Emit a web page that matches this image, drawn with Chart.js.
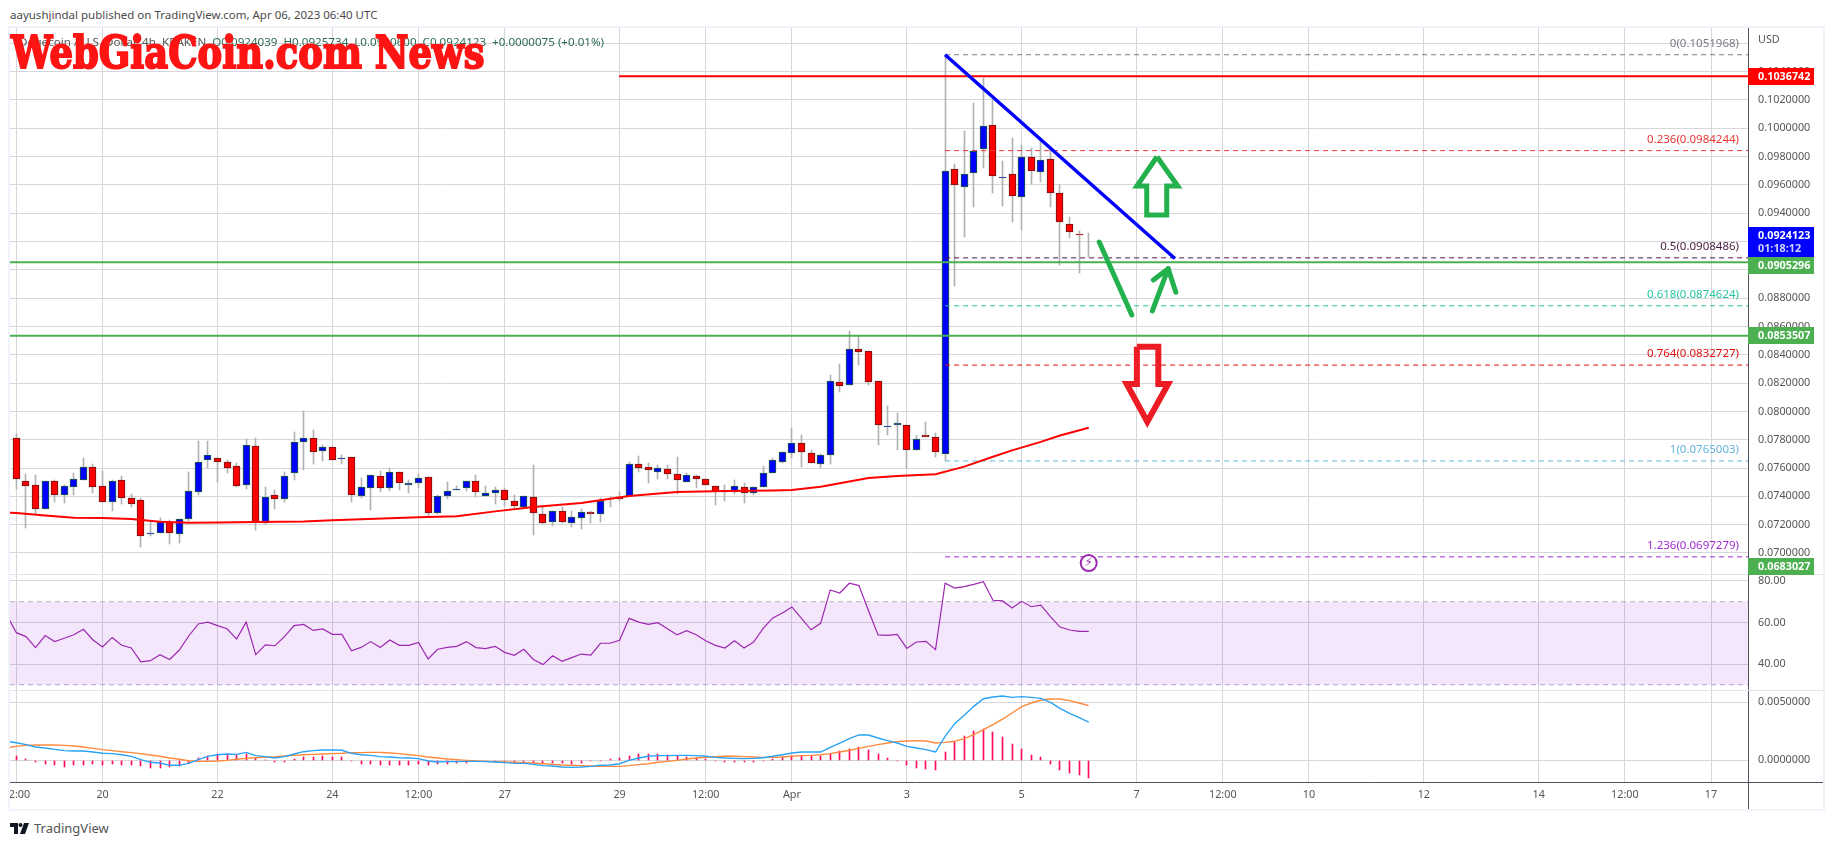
<!DOCTYPE html>
<html>
<head>
<meta charset="utf-8">
<title>Dogecoin / U.S. Dollar, 4h</title>
<script src="https://cdn.jsdelivr.net/npm/chart.js@4/dist/chart.umd.js"></script>
<style>
  html, body { margin: 0; padding: 0; background: #fff; }
  body { width: 1834px; height: 845px; position: relative; overflow: hidden; font-family: "Noto Sans", sans-serif; }
  canvas { position: absolute; left: 10px; }
  #frame { position: absolute; left: 8px; top: 26px; width: 1817px; height: 785px; box-sizing: border-box; border: 2px solid #f0f3fa; }
  #published { position: absolute; left: 10px; top: 6px; font-size: 11.5px; line-height: 18px; color: #4a4a4a; white-space: nowrap; }
  #legend { position: absolute; left: 19px; top: 33px; font-size: 11.6px; line-height: 18px; color: #555; white-space: pre; }
  #legend span { color: #2f6b52; }
  #watermark { position: absolute; left: 11px; top: 25px; font-family: "DejaVu Serif", serif; font-weight: 900; font-size: 45px; line-height: 55px; color: #ff1414; white-space: pre; transform-origin: 0 0; transform: scaleX(0.82); -webkit-text-stroke: 2px #ff1414; }
  #footer { position: absolute; left: 10px; top: 819px; height: 18px; display: flex; align-items: center; font-size: 13px; color: #555; }
  #footer svg { margin-right: 5px; }
</style>
</head>
<body>
<div id="published">aayushjindal published on TradingView.com, Apr 06, 2023 06:40 UTC</div>
<div id="frame"></div>
<canvas id="priceChart" width="1813" height="547" style="top:28px"></canvas>
<canvas id="rsiChart" width="1813" height="116" style="top:575px"></canvas>
<canvas id="macdChart" width="1813" height="118" style="top:691px"></canvas>
<div id="legend">Dogecoin / U.S. Dollar, 4h, KRAKEN  <span>O0.0924039  H0.0925734  L0.0900600  C0.0924123  +0.0000075 (+0.01%)</span></div>
<div id="watermark">WebGiaCoin.com News</div>
<div id="footer">
  <svg width="19" height="11" viewBox="0 0 19 11"><path d="M0 0h8v11H4V4H0z M14 0h5l-4 11h-5z" fill="#131722"/><circle cx="10.5" cy="2" r="2" fill="#131722"/></svg>
  TradingView
</div>
<script>
// candles, one entry per 4h bar
const opens = [
  0.07810, 0.07506, 0.07478, 0.07308, 0.07506, 0.07412, 0.07468, 0.07513, 0.07605, 0.07471,
  0.07363, 0.07513, 0.07386, 0.07372, 0.07132, 0.07139, 0.07219, 0.07132, 0.07238, 0.07428,
  0.07655, 0.07669, 0.07640, 0.07612, 0.07478, 0.07753, 0.07209, 0.07407, 0.07379, 0.07563,
  0.07782, 0.07810, 0.07723, 0.07746, 0.07662, 0.07676, 0.07405, 0.07457, 0.07541, 0.07457,
  0.07570, 0.07478, 0.07492, 0.07534, 0.07285, 0.07405, 0.07443, 0.07457, 0.07506, 0.07405,
  0.07421, 0.07443, 0.07365, 0.07327, 0.07393, 0.07273, 0.07221, 0.07294, 0.07214, 0.07245,
  0.07287, 0.07273, 0.07379, 0.07398, 0.07400, 0.07626, 0.07605, 0.07570, 0.07591, 0.07556,
  0.07499, 0.07541, 0.07520, 0.07471, 0.07436, 0.07428, 0.07464, 0.07421, 0.07464, 0.07563,
  0.07640, 0.07704, 0.07775, 0.07704, 0.07626, 0.07690, 0.08206, 0.08184, 0.08439, 0.08425,
  0.08213, 0.07892, 0.07902, 0.07902, 0.07725, 0.07831, 0.07817, 0.07702, 0.09710, 0.09583,
  0.09682, 0.09852, 0.10021, 0.09651, 0.09675, 0.09512, 0.09795, 0.09689, 0.09781, 0.09541,
  0.09322, 0.09251, 0.09240
]
const highs = [
  0.07838, 0.07558, 0.07551, 0.07506, 0.07516, 0.07480, 0.07565, 0.07671, 0.07629, 0.07579,
  0.07516, 0.07544, 0.07417, 0.07386, 0.07221, 0.07247, 0.07233, 0.07238, 0.07572, 0.07789,
  0.07791, 0.07669, 0.07655, 0.07633, 0.07803, 0.07812, 0.07464, 0.07445, 0.07572, 0.07855,
  0.08003, 0.07869, 0.07763, 0.07746, 0.07692, 0.07676, 0.07530, 0.07548, 0.07579, 0.07598,
  0.07570, 0.07516, 0.07556, 0.07534, 0.07412, 0.07501, 0.07473, 0.07506, 0.07551, 0.07473,
  0.07466, 0.07459, 0.07410, 0.07400, 0.07622, 0.07323, 0.07294, 0.07323, 0.07294, 0.07308,
  0.07294, 0.07386, 0.07398, 0.07428, 0.07643, 0.07685, 0.07636, 0.07622, 0.07622, 0.07678,
  0.07563, 0.07548, 0.07520, 0.07471, 0.07480, 0.07516, 0.07492, 0.07464, 0.07614, 0.07669,
  0.07711, 0.07881, 0.07831, 0.07725, 0.07697, 0.08255, 0.08335, 0.08568, 0.08533, 0.08425,
  0.08213, 0.08038, 0.07987, 0.07902, 0.07831, 0.07925, 0.07845, 0.10520, 0.09748, 0.09981,
  0.10179, 0.10353, 0.10200, 0.09769, 0.09932, 0.09880, 0.09861, 0.09917, 0.09847, 0.09597,
  0.09374, 0.09275, 0.09257
]
const lows = [
  0.07454, 0.07179, 0.07275, 0.07308, 0.07363, 0.07355, 0.07410, 0.07513, 0.07426, 0.07363,
  0.07299, 0.07348, 0.07327, 0.07045, 0.07122, 0.07139, 0.07066, 0.07073, 0.07228, 0.07412,
  0.07600, 0.07504, 0.07567, 0.07468, 0.07454, 0.07165, 0.07205, 0.07313, 0.07363, 0.07518,
  0.07589, 0.07631, 0.07652, 0.07659, 0.07631, 0.07363, 0.07391, 0.07306, 0.07433, 0.07440,
  0.07447, 0.07426, 0.07457, 0.07257, 0.07278, 0.07384, 0.07443, 0.07440, 0.07398, 0.07405,
  0.07348, 0.07332, 0.07315, 0.07315, 0.07129, 0.07202, 0.07193, 0.07214, 0.07186, 0.07172,
  0.07214, 0.07221, 0.07327, 0.07370, 0.07400, 0.07574, 0.07497, 0.07525, 0.07525, 0.07414,
  0.07499, 0.07461, 0.07478, 0.07341, 0.07367, 0.07414, 0.07355, 0.07407, 0.07464, 0.07563,
  0.07633, 0.07669, 0.07610, 0.07633, 0.07598, 0.07631, 0.08140, 0.08184, 0.08330, 0.08187,
  0.07765, 0.07836, 0.07730, 0.07603, 0.07725, 0.07822, 0.07676, 0.07650, 0.08886, 0.09230,
  0.09447, 0.09722, 0.09545, 0.09454, 0.09341, 0.09282, 0.09607, 0.09621, 0.09447, 0.09037,
  0.09228, 0.08980, 0.09089
]
const closes = [
  0.07525, 0.07476, 0.07313, 0.07506, 0.07412, 0.07471, 0.07520, 0.07605, 0.07468, 0.07363,
  0.07506, 0.07391, 0.07348, 0.07118, 0.07139, 0.07219, 0.07139, 0.07238, 0.07436, 0.07640,
  0.07690, 0.07640, 0.07603, 0.07476, 0.07761, 0.07219, 0.07393, 0.07384, 0.07541, 0.07782,
  0.07810, 0.07716, 0.07746, 0.07659, 0.07669, 0.07412, 0.07464, 0.07548, 0.07461, 0.07570,
  0.07492, 0.07492, 0.07527, 0.07285, 0.07400, 0.07436, 0.07450, 0.07506, 0.07428, 0.07421,
  0.07443, 0.07372, 0.07334, 0.07400, 0.07280, 0.07209, 0.07294, 0.07221, 0.07252, 0.07287,
  0.07273, 0.07370, 0.07384, 0.07379, 0.07626, 0.07598, 0.07584, 0.07598, 0.07556, 0.07513,
  0.07548, 0.07520, 0.07478, 0.07440, 0.07428, 0.07471, 0.07421, 0.07464, 0.07563, 0.07655,
  0.07711, 0.07775, 0.07711, 0.07633, 0.07690, 0.08213, 0.08182, 0.08439, 0.08417, 0.08206,
  0.07902, 0.07897, 0.07916, 0.07725, 0.07808, 0.07822, 0.07711, 0.09696, 0.09602, 0.09675,
  0.09837, 0.10014, 0.09661, 0.09656, 0.09520, 0.09800, 0.09696, 0.09774, 0.09541, 0.09336,
  0.09270, 0.09244, 0.09241
]

// moving average, read at the bars where the curve bends
const emaBars = [-1, 0, 3, 6, 9, 12, 15, 18, 21, 25, 30, 33, 36, 42, 46, 50, 54, 59, 64, 69, 74, 79, 81, 84, 89, 92, 96, 99, 102, 104, 107, 109, 112]
const emaValues = [
  0.07285, 0.07282, 0.07264, 0.07249, 0.07247, 0.07240, 0.07221, 0.07214, 0.07216, 0.07219, 0.07223,
  0.07231, 0.07238, 0.07252, 0.07259, 0.07294, 0.07325, 0.07353, 0.07403, 0.07431, 0.07438, 0.07442,
  0.07445, 0.07468, 0.07530, 0.07544, 0.07556, 0.07610, 0.07680, 0.07725, 0.07785, 0.07830, 0.07885
]

// oscillators start one bar before the first candle
const rsiValues = [
  63.5, 55.1, 53.2, 47.9, 53.7, 50.8, 52.4, 54.1, 56.7, 51.6, 48.2, 52.8, 49.0, 47.7, 41.0, 41.6, 44.5, 42.2, 46.6, 53.5,
  59.3, 60.2, 58.5, 57.0, 52.0, 60.2, 44.5, 49.2, 48.8, 53.2, 58.5, 59.1, 56.2, 56.9, 54.3, 54.3, 46.4, 48.0, 50.8, 48.0,
  51.6, 49.0, 49.0, 50.4, 42.4, 47.1, 48.0, 48.5, 50.8, 47.9, 47.4, 48.5, 45.6, 44.2, 47.1, 42.2, 39.7, 44.0, 41.3, 43.1,
  44.8, 44.3, 50.0, 50.0, 51.4, 62.0, 60.2, 59.1, 59.9, 57.0, 54.1, 56.1, 54.1, 51.2, 49.0, 47.7, 51.2, 47.7, 50.6, 57.2,
  62.2, 64.6, 67.5, 62.0, 56.5, 59.6, 75.7, 74.2, 78.9, 77.8, 65.7, 54.0, 53.8, 54.3, 47.5, 50.6, 50.9, 46.9, 78.9, 76.6,
  77.3, 78.4, 79.7, 70.7, 70.4, 67.0, 70.2, 67.6, 68.4, 62.8, 57.8, 56.4, 55.7, 55.7
]
const macdValues = [
  0.00162, 0.00150, 0.00133, 0.00113, 0.00104, 0.00092, 0.00081, 0.00078, 0.00078, 0.00069, 0.00058, 0.00055, 0.00046, 0.00032,
  0.00003, -0.00020, -0.00026, -0.00046, -0.00046, -0.00029, 0.00003, 0.00032, 0.00046, 0.00052, 0.00049, 0.00066, 0.00038, 0.00029,
  0.00017, 0.00029, 0.00052, 0.00072, 0.00081, 0.00087, 0.00087, 0.00084, 0.00058, 0.00046, 0.00040, 0.00029, 0.00026, 0.00020,
  0.00017, 0.00012, -0.00009, -0.00017, -0.00014, -0.00014, -0.00012, -0.00012, -0.00014, -0.00017, -0.00023, -0.00029, -0.00029, -0.00038,
  -0.00049, -0.00052, -0.00061, -0.00064, -0.00061, -0.00055, -0.00046, -0.00043, -0.00032, -0.00003, 0.00017, 0.00032, 0.00038, 0.00038,
  0.00040, 0.00040, 0.00038, 0.00032, 0.00023, 0.00017, 0.00014, 0.00012, 0.00014, 0.00020, 0.00032, 0.00046, 0.00061, 0.00069,
  0.00069, 0.00069, 0.00110, 0.00147, 0.00185, 0.00217, 0.00217, 0.00191, 0.00168, 0.00147, 0.00118, 0.00104, 0.00090, 0.00069,
  0.00205, 0.00315, 0.00387, 0.00465, 0.00531, 0.00546, 0.00554, 0.00543, 0.00549, 0.00543, 0.00534, 0.00500, 0.00448, 0.00404,
  0.00367, 0.00329
]
const signalValues = [
  0.00107, 0.00118, 0.00127, 0.00130, 0.00130, 0.00130, 0.00127, 0.00121, 0.00113, 0.00101, 0.00090, 0.00081, 0.00072, 0.00064,
  0.00055, 0.00043, 0.00032, 0.00017, 0.00006, -0.00006, -0.00012, -0.00012, -0.00009, -0.00003, 0.00006, 0.00014, 0.00020, 0.00026,
  0.00029, 0.00035, 0.00040, 0.00046, 0.00049, 0.00052, 0.00055, 0.00058, 0.00064, 0.00064, 0.00066, 0.00066, 0.00061, 0.00055,
  0.00046, 0.00038, 0.00026, 0.00017, 0.00009, 0.00003, -0.00003, -0.00009, -0.00012, -0.00014, -0.00017, -0.00020, -0.00023, -0.00026,
  -0.00032, -0.00038, -0.00043, -0.00046, -0.00049, -0.00052, -0.00055, -0.00055, -0.00055, -0.00049, -0.00040, -0.00032, -0.00020, -0.00012,
  -0.00003, 0.00009, 0.00017, 0.00023, 0.00029, 0.00032, 0.00032, 0.00029, 0.00026, 0.00023, 0.00023, 0.00026, 0.00032, 0.00038,
  0.00040, 0.00046, 0.00055, 0.00069, 0.00084, 0.00101, 0.00118, 0.00133, 0.00147, 0.00159, 0.00165, 0.00168, 0.00165, 0.00147,
  0.00153, 0.00162, 0.00185, 0.00219, 0.00263, 0.00306, 0.00355, 0.00407, 0.00462, 0.00494, 0.00520, 0.00529, 0.00529, 0.00514,
  0.00494, 0.00471
]
const histValues = [
  0.00038, 0.00012, -0.00020, -0.00032, -0.00046, -0.00058, -0.00046, -0.00040, -0.00035, -0.00040, -0.00035, -0.00040, -0.00040, -0.00055,
  -0.00072, -0.00066, -0.00061, -0.00055, -0.00029, 0.00014, 0.00032, 0.00055, 0.00055, 0.00046, 0.00055, 0.00020, 0.00003, -0.00020,
  -0.00020, 0.00009, 0.00029, 0.00029, 0.00038, 0.00029, 0.00023, -0.00012, -0.00032, -0.00035, -0.00040, -0.00040, -0.00040, -0.00040,
  -0.00032, -0.00040, -0.00038, -0.00038, -0.00029, -0.00023, -0.00012, -0.00012, -0.00014, -0.00017, -0.00017, -0.00017, -0.00023, -0.00026,
  -0.00029, -0.00023, -0.00032, -0.00023, -0.00012, -0.00006, 0.00006, 0.00017, 0.00038, 0.00055, 0.00055, 0.00055, 0.00043, 0.00032,
  0.00029, 0.00017, 0.00009, -0.00012, -0.00020, -0.00020, -0.00020, -0.00020, -0.00012, 0.00012, 0.00026, 0.00035, 0.00035, 0.00032,
  0.00032, 0.00055, 0.00075, 0.00095, 0.00110, 0.00090, 0.00055, 0.00020, -0.00012, -0.00046, -0.00066, -0.00075, -0.00084, 0.00066,
  0.00153, 0.00211, 0.00254, 0.00269, 0.00245, 0.00202, 0.00142, 0.00098, 0.00046, 0.00023, -0.00032, -0.00084, -0.00110, -0.00133,
  -0.00153
]

// axes
const priceTicks = [0.070, 0.072, 0.074, 0.076, 0.078, 0.080, 0.082, 0.084, 0.086, 0.088, 0.090, 0.092, 0.094, 0.096, 0.098, 0.100, 0.102, 0.104, 0.106]
const rsiTicks = [40, 60, 80]
const macdTicks = [0, 0.005]
const timeTickBars = [0, 9, 21, 33, 42, 51, 63, 72, 81, 93, 105, 117, 126, 135, 147, 159, 168, 177]
const timeTickLabels = ['12:00', '20', '22', '24', '12:00', '27', '29', '12:00', 'Apr', '3', '5', '7', '12:00', '10', '12', '14', '12:00', '17']

// fibonacci retracement
const fibLabels = ['0', '0.236', '0.5', '0.618', '0.764', '1', '1.236']
const fibPrices = [0.1051968, 0.0984244, 0.0908486, 0.0874624, 0.0832727, 0.0765003, 0.0697279]
const fibColors = ['#787b86', '#e53935', '#4a1c40', '#26c6a0', '#e01010', '#64b5dc', '#a02bd6']

// hand drawn levels and shapes, as [bar] and [price] lists
const resistanceBars = [62.95, 181]
const resistancePrice = 0.1036742
const supportPrices = [0.0905296, 0.0853507]
const trendBars = [97, 121]
const trendPrices = [0.1052, 0.0908]
const downStrokeBars = [113.1, 116.5]
const downStrokePrices = [0.09197, 0.08681]
const upStrokeBars = [118.65, 120.3]
const upStrokePrices = [0.0871, 0.09008]
const upHeadBars = [118.75, 120.3, 121.1]
const upHeadPrices = [0.08928, 0.09008, 0.08842]
const bigUpBars = [119.13, 121.3, 120.15, 120.15, 118.06, 118.06, 117.03, 119.13]
const bigUpPrices = [0.09799, 0.09592, 0.09592, 0.09388, 0.09388, 0.09592, 0.09592, 0.09799]
const bigDownBars = [117.03, 119.27, 119.27, 120.3, 118.12, 115.97, 117.03, 117.03]
const bigDownPrices = [0.08457, 0.08457, 0.08194, 0.08194, 0.07927, 0.08194, 0.08194, 0.08457]
const alertBar = [112]
const alertPrice = [0.06929]

// price tags on the right axis
const tagPrices = [0.1036742, 0.0924123, 0.0905296, 0.0853507, 0.0683027]
const tagColors = ['#ff0000', '#0000ff', '#4caf50', '#4caf50', '#4caf50']
const tagCountdown = '01:18:12'

const X_MIN = -0.668
const X_MAX = 180.86
const GRID_COLOR = '#d6d6db'
const AXIS_COLOR = '#50535e'
const TEXT_COLOR = '#555555'
const UP_COLOR = '#0000ff'
const UP_BORDER = '#1b5e3a'
const DOWN_COLOR = '#ff0000'
const DOWN_BORDER = '#6b1414'
const FONT = { family: '"Noto Sans", sans-serif', size: 10.8 }
const FIB_FONT_SIZE = 11.5

Chart.defaults.font.family = FONT.family
Chart.defaults.font.size = FONT.size
Chart.defaults.color = TEXT_COLOR

function toPoints(xs, ys) {
  return xs.map((x, i) => ({ x, y: ys[i] }))
}

function lineDataset(points, color, width, order, extra = {}) {
  return {
    type: 'line',
    data: points,
    borderColor: color,
    borderWidth: width,
    pointRadius: 0,
    tension: 0,
    fill: false,
    order,
    ...extra
  }
}

function barDataset(points, colors, thickness, order, extra = {}) {
  return {
    type: 'bar',
    data: points,
    backgroundColor: colors,
    barThickness: thickness,
    maxBarThickness: thickness,
    grouped: false,
    borderSkipped: false,
    order,
    ...extra
  }
}

function buildOptions(yMin, yMax, yTicks, formatTick, showTime) {
  return {
    responsive: false,
    animation: false,
    events: [],
    layout: { padding: 0, autoPadding: false },
    plugins: { legend: { display: false }, tooltip: { enabled: false } },
    scales: {
      x: {
        type: 'linear',
        offset: false,
        min: X_MIN,
        max: X_MAX,
        border: { display: false },
        grid: { color: GRID_COLOR, offset: false, drawTicks: false },
        afterBuildTicks: (scale) => {
          scale.ticks = timeTickBars.map((value) => ({ value }))
        },
        ticks: {
          display: showTime,
          autoSkip: false,
          maxRotation: 0,
          padding: 6,
          color: TEXT_COLOR,
          font: FONT,
          callback: (value) => timeTickLabels[timeTickBars.indexOf(value)]
        },
        afterFit: (scale) => {
          scale.height = showTime ? 27 : 0
          scale.paddingLeft = 0
          scale.paddingRight = 0
        }
      },
      y: {
        position: 'right',
        min: yMin,
        max: yMax,
        border: { display: false },
        grid: { color: GRID_COLOR, drawTicks: false },
        afterBuildTicks: (scale) => {
          scale.ticks = yTicks.map((value) => ({ value }))
        },
        ticks: { padding: 10, color: TEXT_COLOR, font: FONT, callback: formatTick },
        afterFit: (scale) => {
          scale.width = 75
          scale.paddingTop = 0
          scale.paddingBottom = 0
        }
      }
    }
  }
}

// keep bars on whole pixels so candles stay crisp
const snapBars = {
  id: 'snapBars',
  afterDatasetsUpdate(chart) {
    chart.getSortedVisibleDatasetMetas().forEach((meta) => {
      if (meta.type !== 'bar') return
      meta.data.forEach((el) => {
        el.x = Math.floor(el.x) + 0.5
        el.y = Math.round(el.y)
        el.base = Math.round(el.base)
      })
    })
  }
}

const paneFrame = {
  id: 'paneFrame',
  afterDraw(chart) {
    const { ctx, chartArea, width, height } = chart
    ctx.save()
    ctx.lineWidth = 1
    ctx.strokeStyle = AXIS_COLOR
    ctx.beginPath()
    ctx.moveTo(chartArea.right + 0.5, 0)
    ctx.lineTo(chartArea.right + 0.5, height)
    ctx.stroke()
    const isLast = chart.canvas.id === 'macdChart'
    ctx.strokeStyle = isLast ? AXIS_COLOR : '#e0e3eb'
    const y = isLast ? chartArea.bottom + 0.5 : height - 0.5
    ctx.beginPath()
    ctx.moveTo(0, y)
    ctx.lineTo(width, y)
    ctx.stroke()
    ctx.restore()
  }
}

// fib captions, axis currency and the coloured price tags
const priceOverlay = {
  id: 'priceOverlay',
  afterDraw(chart) {
    const { ctx, chartArea, scales } = chart
    const right = chartArea.right
    ctx.save()
    ctx.font = `${FIB_FONT_SIZE}px ${FONT.family}`
    ctx.textBaseline = 'middle'

    ctx.textAlign = 'right'
    fibLabels.forEach((label, i) => {
      ctx.fillStyle = fibColors[i]
      ctx.fillText(`${label}(${fibPrices[i].toFixed(7)})`, right - 9, scales.y.getPixelForValue(fibPrices[i]) - 11)
    })

    ctx.textAlign = 'left'
    ctx.font = `${FONT.size}px ${FONT.family}`
    ctx.fillStyle = TEXT_COLOR
    ctx.fillText('USD', right + 10, 12)

    ctx.textAlign = 'center'
    ctx.fillStyle = '#9c27b0'
    ctx.font = `12px "DejaVu Sans", sans-serif`
    ctx.fillText('\u26A1', scales.x.getPixelForValue(alertBar[0]), scales.y.getPixelForValue(alertPrice[0]))

    ctx.textAlign = 'left'
    ctx.font = `bold ${FONT.size}px ${FONT.family}`
    let prevBottom = -Infinity
    tagPrices.forEach((price, i) => {
      const isCurrent = i === 1
      const tagHeight = isCurrent ? 30 : 17
      const py = scales.y.getPixelForValue(price)
      let top = Math.max(Math.round(py - 8.5), prevBottom)
      top = Math.min(top, chartArea.bottom - tagHeight)
      prevBottom = top + tagHeight
      ctx.fillStyle = tagColors[i]
      ctx.fillRect(right, top, 66, tagHeight)
      ctx.fillStyle = '#ffffff'
      ctx.fillText(price.toFixed(7), right + 10, top + 8.5)
      if (isCurrent) {
        ctx.fillStyle = '#d2d2ff'
        ctx.fillText(tagCountdown, right + 10, top + 22)
      }
    })
    ctx.restore()
  }
}

function buildPriceChart() {
  const barIndex = opens.map((_, i) => i)
  const wicks = barIndex.map((i) => ({ x: i, y: [lows[i], highs[i]] }))
  const bodies = barIndex.map((i) => ({ x: i, y: [opens[i], closes[i]] }))
  const isUp = barIndex.map((i) => closes[i] >= opens[i])

  const fibSets = fibPrices.map((price, i) =>
    lineDataset(toPoints([97, X_MAX + 1], [price, price]), fibColors[i], 1, 6, { borderDash: [5, 4] })
  )
  const supportSets = supportPrices.map((price) =>
    lineDataset(toPoints([X_MIN - 1, X_MAX + 1], [price, price]), '#4caf50', 2, 4)
  )
  const penGreen = { borderCapStyle: 'round', borderJoinStyle: 'round' }

  new Chart(document.getElementById('priceChart'), {
    type: 'bar',
    data: {
      datasets: [
        barDataset(wicks, '#b2b2b2', 1, 10),
        barDataset(bodies, isUp.map((u) => (u ? UP_COLOR : DOWN_COLOR)), 7, 9, {
          borderWidth: 1,
          borderColor: isUp.map((u) => (u ? UP_BORDER : DOWN_BORDER))
        }),
        ...fibSets,
        lineDataset(toPoints(emaBars, emaValues), '#ff0000', 2, 5),
        lineDataset(toPoints(resistanceBars, [resistancePrice, resistancePrice]), '#ff0000', 2, 4),
        ...supportSets,
        lineDataset(toPoints(trendBars, trendPrices), '#0000ff', 3.5, 3),
        lineDataset(toPoints(downStrokeBars, downStrokePrices), '#22b14c', 5, 2, penGreen),
        lineDataset(toPoints(upStrokeBars, upStrokePrices), '#22b14c', 5, 2, penGreen),
        lineDataset(toPoints(upHeadBars, upHeadPrices), '#22b14c', 5, 2, penGreen),
        lineDataset(toPoints(bigUpBars, bigUpPrices), '#22b14c', 5, 2, { borderJoinStyle: 'miter' }),
        lineDataset(toPoints(bigDownBars, bigDownPrices), '#ed1c24', 6, 2, { borderJoinStyle: 'miter' }),
        lineDataset(toPoints(alertBar, alertPrice), '#9c27b0', 0, 1, {
          pointRadius: 8,
          pointBorderWidth: 2,
          pointBorderColor: '#9c27b0',
          pointBackgroundColor: '#ffffff',
          showLine: false
        })
      ]
    },
    options: buildOptions(0.068445, 0.107086, priceTicks, (v) => (v > 0.105 ? '' : v.toFixed(7)), false),
    plugins: [snapBars, paneFrame, priceOverlay]
  })
}

function buildRsiChart() {
  const rsiBars = rsiValues.map((_, i) => i - 1)
  const bandEdge = { borderDash: [5, 4] }
  new Chart(document.getElementById('rsiChart'), {
    type: 'line',
    data: {
      datasets: [
        lineDataset(toPoints([X_MIN, X_MAX], [70, 70]), '#b9adc4', 1, 5, {
          ...bandEdge,
          fill: { target: { value: 30 } },
          backgroundColor: 'rgba(156, 39, 216, 0.11)'
        }),
        lineDataset(toPoints([X_MIN, X_MAX], [30, 30]), '#b9adc4', 1, 5, bandEdge),
        lineDataset(toPoints(rsiBars, rsiValues), '#9c27b0', 1.2, 1)
      ]
    },
    options: buildOptions(26.99, 82.89, rsiTicks, (v) => v.toFixed(2), false),
    plugins: [paneFrame]
  })
}

function buildMacdChart() {
  const lineBars = macdValues.map((_, i) => i - 1)
  const histBars = histValues.map((_, i) => i)
  new Chart(document.getElementById('macdChart'), {
    type: 'bar',
    data: {
      datasets: [
        barDataset(toPoints(histBars, histValues), '#ff0a5e', 1, 5),
        lineDataset(toPoints(lineBars, signalValues), '#ff8a3d', 1.4, 2),
        lineDataset(toPoints(lineBars, macdValues), '#2aa3f5', 1.4, 1)
      ]
    },
    options: buildOptions(-0.001906, 0.005979, macdTicks, (v) => v.toFixed(7), true),
    plugins: [snapBars, paneFrame]
  })
}

buildPriceChart()
buildRsiChart()
buildMacdChart()
</script>
</body>
</html>
